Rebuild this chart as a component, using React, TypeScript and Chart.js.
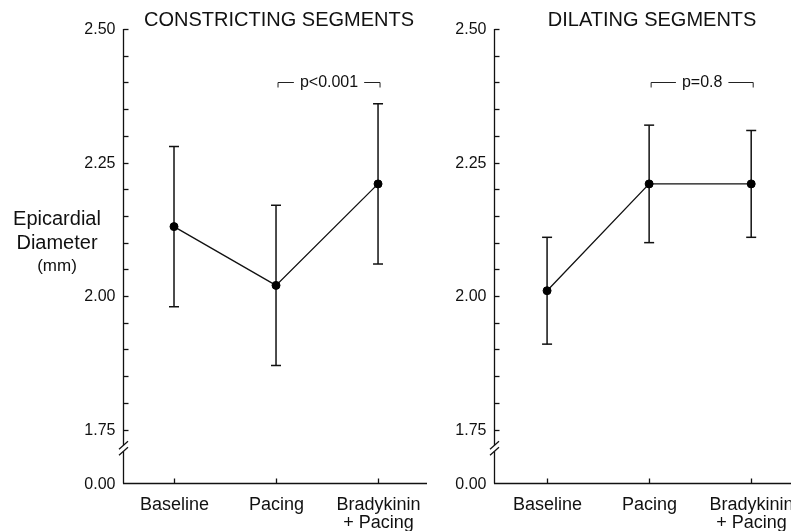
import React, { useEffect, useRef } from "react";
import { Chart, registerables } from "chart.js";

Chart.register(...registerables);

// ---------- data ----------
const CATEGORIES: string[][] = [["Baseline"], ["Pacing"], ["Bradykinin", "+ Pacing"]];

const CONSTRICT_MEAN = [2.13, 2.02, 2.21];
const CONSTRICT_LOW = [1.98, 1.87, 2.06];
const CONSTRICT_HIGH = [2.28, 2.17, 2.36];

const DILATE_MEAN = [2.01, 2.21, 2.21];
const DILATE_LOW = [1.91, 2.1, 2.11];
const DILATE_HIGH = [2.11, 2.32, 2.31];

const PANEL_TITLES = ["CONSTRICTING SEGMENTS", "DILATING SEGMENTS"];
const P_LABELS = ["p<0.001", "p=0.8"];
const BRACKET_LEVEL = 2.4;

const Y_MAJOR_TICKS = [1.75, 2.0, 2.25, 2.5];
const Y_MINOR_TICKS = [1.8, 1.85, 1.9, 1.95, 2.05, 2.1, 2.15, 2.2, 2.3, 2.35, 2.4, 2.45];
const Y_ZERO_POS = 1.65; // where "0.00" sits, below the axis break
const Y_ZERO_LABEL = "0.00";
const Y_BREAK = 1.715;
const Y_MAX = 2.5;
const Y_TITLE = ["Epicardial", "Diameter", "(mm)"];

const FONT = '"Liberation Sans", Arial, Helvetica, sans-serif';
const INK = "#111";

type PanelCfg = {
  title: string;
  pLabel: string;
  mean: number[];
  low: number[];
  high: number[];
  showYTitle: boolean;
};

function line(ctx: CanvasRenderingContext2D, x1: number, y1: number, x2: number, y2: number) {
  ctx.beginPath();
  ctx.moveTo(x1, y1);
  ctx.lineTo(x2, y2);
  ctx.stroke();
}

function makePlugin(cfg: PanelCfg) {
  return {
    id: "panelDecor",
    beforeDatasetsDraw(chart: any) {
      const ctx: CanvasRenderingContext2D = chart.ctx;
      const xs = chart.scales.x;
      const ys = chart.scales.y;
      ctx.save();
      ctx.strokeStyle = INK;
      ctx.lineWidth = 1.5;
      cfg.mean.forEach((_, i) => {
        const x = xs.getPixelForValue(i);
        const yl = ys.getPixelForValue(cfg.low[i]);
        const yh = ys.getPixelForValue(cfg.high[i]);
        line(ctx, x, yl, x, yh);
        line(ctx, x - 5, yl, x + 5, yl);
        line(ctx, x - 5, yh, x + 5, yh);
      });
      ctx.restore();
    },
    afterDraw(chart: any) {
      const ctx: CanvasRenderingContext2D = chart.ctx;
      const xs = chart.scales.x;
      const ys = chart.scales.y;
      const area = chart.chartArea;
      ctx.save();
      ctx.strokeStyle = INK;
      ctx.fillStyle = INK;
      ctx.lineWidth = 1.3;

      const ax = Math.round(area.left) + 0.5;
      const yTop = ys.getPixelForValue(Y_MAX);
      const yBot = Math.round(ys.getPixelForValue(Y_ZERO_POS)) + 0.5;
      const yb = ys.getPixelForValue(Y_BREAK);

      // y axis with break
      line(ctx, ax, yTop, ax, yb - 3);
      line(ctx, ax, yb + 3, ax, yBot);
      line(ctx, ax - 4.5, yb + 1, ax + 4.5, yb - 7);
      line(ctx, ax - 4.5, yb + 7, ax + 4.5, yb - 1);

      // y ticks (inward)
      [...Y_MAJOR_TICKS, ...Y_MINOR_TICKS].forEach((v) => {
        const y = Math.round(ys.getPixelForValue(v)) + 0.5;
        line(ctx, ax, y, ax + 5, y);
      });

      // y tick labels
      ctx.font = `16px ${FONT}`;
      ctx.textAlign = "right";
      ctx.textBaseline = "middle";
      Y_MAJOR_TICKS.forEach((v) => {
        ctx.fillText(v.toFixed(2), ax - 8, ys.getPixelForValue(v) + 1);
      });
      ctx.fillText(Y_ZERO_LABEL, ax - 8, yBot + 1);

      // x axis
      line(ctx, area.left, yBot, area.right, yBot);
      ctx.font = `18px ${FONT}`;
      ctx.textAlign = "center";
      ctx.textBaseline = "alphabetic";
      CATEGORIES.forEach((lab, i) => {
        const x = Math.round(xs.getPixelForValue(i)) + 0.5;
        line(ctx, x, yBot, x, yBot - 5);
        lab.forEach((t, k) => ctx.fillText(t, x, yBot + 26 + k * 18));
      });

      // panel title
      ctx.font = `20px ${FONT}`;
      ctx.textAlign = "center";
      ctx.fillText(cfg.title, xs.getPixelForValue(1) + 3, 26);

      // p-value bracket between Pacing and Bradykinin + Pacing
      const by = Math.round(ys.getPixelForValue(BRACKET_LEVEL)) + 0.5;
      const x1 = xs.getPixelForValue(1) + 2;
      const x2 = xs.getPixelForValue(2) + 2;
      ctx.font = `16px ${FONT}`;
      const w = ctx.measureText(cfg.pLabel).width;
      const cx = (x1 + x2) / 2;
      ctx.lineWidth = 1;
      ctx.strokeStyle = "#222";
      line(ctx, x1, by, cx - w / 2 - 6, by);
      line(ctx, cx + w / 2 + 6, by, x2, by);
      line(ctx, x1, by, x1, by + 5);
      line(ctx, x2, by, x2, by + 5);
      ctx.textBaseline = "middle";
      ctx.fillText(cfg.pLabel, cx, by);

      // y title
      if (cfg.showYTitle) {
        ctx.textBaseline = "alphabetic";
        ctx.textAlign = "center";
        ctx.font = `20px ${FONT}`;
        ctx.fillText(Y_TITLE[0], 57, 225);
        ctx.fillText(Y_TITLE[1], 57, 249);
        ctx.font = `17px ${FONT}`;
        ctx.fillText(Y_TITLE[2], 57, 271);
      }
      ctx.restore();
    },
  };
}

function buildChart(
  canvas: HTMLCanvasElement,
  cfg: PanelCfg,
  padding: { left: number; right: number; top: number; bottom: number },
  xMin: number,
  xMax: number
) {
  return new Chart(canvas, {
    type: "line",
    data: {
      datasets: [
        {
          data: cfg.mean.map((v, i) => ({ x: i, y: v })),
          borderColor: INK,
          borderWidth: 1.3,
          pointRadius: 4,
          pointBorderWidth: 1,
          pointBackgroundColor: "#000",
          pointBorderColor: "#000",
          tension: 0,
          fill: false,
          clip: false,
        } as any,
      ],
    },
    options: {
      responsive: false,
      animation: false,
      devicePixelRatio: 1,
      events: [],
      layout: { padding, autoPadding: false },
      plugins: {
        legend: { display: false },
        tooltip: { enabled: false },
        title: { display: false },
      },
      scales: {
        x: { type: "linear", min: xMin, max: xMax, display: false },
        y: { type: "linear", min: Y_ZERO_POS, max: Y_MAX, display: false },
      },
    },
    plugins: [makePlugin(cfg)],
  } as any);
}

export default function App() {
  const leftRef = useRef<HTMLCanvasElement>(null);
  const rightRef = useRef<HTMLCanvasElement>(null);

  useEffect(() => {
    const c1 = buildChart(
      leftRef.current!,
      {
        title: PANEL_TITLES[0],
        pLabel: P_LABELS[0],
        mean: CONSTRICT_MEAN,
        low: CONSTRICT_LOW,
        high: CONSTRICT_HIGH,
        showYTitle: true,
      },
      { left: 123, right: 13, top: 29, bottom: 48 },
      -0.5,
      2.48
    );
    const c2 = buildChart(
      rightRef.current!,
      {
        title: PANEL_TITLES[1],
        pLabel: P_LABELS[1],
        mean: DILATE_MEAN,
        low: DILATE_LOW,
        high: DILATE_HIGH,
        showYTitle: false,
      },
      { left: 54, right: 0, top: 29, bottom: 48 },
      -0.52,
      2.39
    );
    return () => {
      c1.destroy();
      c2.destroy();
    };
  }, []);

  return (
    <div
      style={{
        position: "absolute",
        left: 0,
        top: 0,
        width: 791,
        height: 531,
        overflow: "hidden",
        background: "#fff",
      }}
    >
      <canvas
        ref={leftRef}
        width={440}
        height={531}
        style={{ position: "absolute", left: 0, top: 0, width: 440, height: 531 }}
      />
      <canvas
        ref={rightRef}
        width={351}
        height={531}
        style={{ position: "absolute", left: 440, top: 0, width: 351, height: 531 }}
      />
    </div>
  );
}
